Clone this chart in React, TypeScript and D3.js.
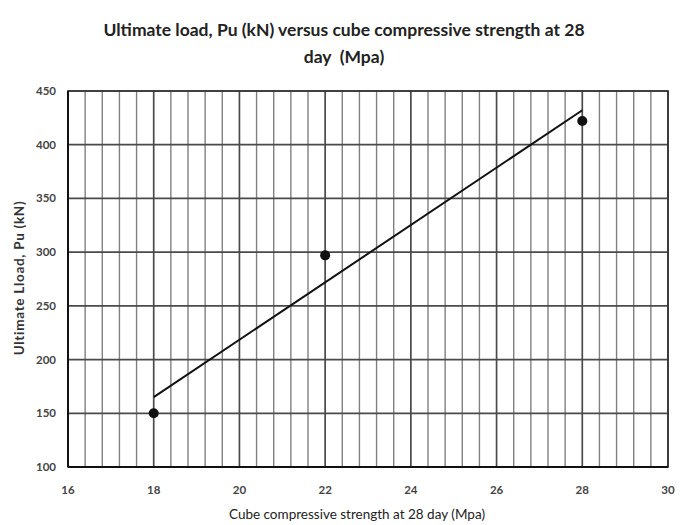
import React from "react";
import * as d3 from "d3";

const strengths = [18, 22, 28];
const loads = [150, 297, 422];
const xTicks = [16, 18, 20, 22, 24, 26, 28, 30];
const yTicks = [100, 150, 200, 250, 300, 350, 400, 450];
const titleLines = ["Ultimate load, Pu (kN) versus cube compressive strength at 28", "day\u00a0\u00a0(Mpa)"];
const xTitle = "Cube compressive strength at 28 day (Mpa)";
const yTitle = "Ultimate Lload, Pu (kN)";

export default function App() {
  const W = 689, H = 525;
  const m = { left: 68, right: 668, top: 91, bottom: 467 };
  const x = d3.scaleLinear().domain([16, 30]).range([m.left, m.right]);
  const y = d3.scaleLinear().domain([100, 450]).range([m.bottom, m.top]);
  const minorX = d3.range(16, 30.0001, 0.4).map((v) => Math.round(v * 10) / 10);

  const mx = d3.mean(strengths)!;
  const my = d3.mean(loads)!;
  const sxy = d3.sum(strengths.map((s, i) => (s - mx) * (loads[i] - my)));
  const sxx = d3.sum(strengths.map((s) => (s - mx) ** 2));
  const slope = sxy / sxx;
  const intercept = my - slope * mx;
  const xMin = d3.min(strengths)!, xMax = d3.max(strengths)!;
  const trend = d3.line<number>().x((v) => x(v)).y((v) => y(slope * v + intercept))([xMin, xMax]);

  return (
    <svg width={W} height={H} style={{ position: "absolute", left: 0, top: 0, background: "#fff" }} fontFamily="Lato, 'Open Sans', sans-serif">
      {titleLines.map((t, i) => (
        <text key={i} x={344} y={36 + i * 27} textAnchor="middle" fontSize={17.5} fontWeight="bold" fill="#222">{t}</text>
      ))}
      {minorX.map((v) => {
        const major = Math.abs(v / 2 - Math.round(v / 2)) < 1e-6;
        return (
          <line key={"vx" + v} x1={x(v)} x2={x(v)} y1={m.top} y2={m.bottom} stroke={major ? "#4a4a4a" : "#808080"} strokeWidth={major ? 1.7 : 1.4} />
        );
      })}
      {yTicks.map((v) => (
        <line key={"hy" + v} x1={m.left} x2={m.right} y1={y(v)} y2={y(v)} stroke="#4a4a4a" strokeWidth={1.7} />
      ))}
      <rect x={m.left} y={m.top} width={m.right - m.left} height={m.bottom - m.top} fill="none" stroke="#333" strokeWidth={1.6} />
      <line x1={m.left} x2={m.right} y1={m.bottom} y2={m.bottom} stroke="#111" strokeWidth={2} />
      <line x1={m.left} x2={m.left} y1={m.top} y2={m.bottom} stroke="#111" strokeWidth={2} />
      <path d={trend || ""} stroke="#111" strokeWidth={2} fill="none" />
      {strengths.map((s, i) => (
        <circle key={"p" + i} cx={x(s)} cy={y(loads[i])} r={5} fill="#111" />
      ))}
      {yTicks.map((v) => (
        <text key={"yl" + v} x={56} y={y(v)} dy="0.35em" textAnchor="end" fontSize={11.5} fontWeight="bold" fill="#444">{v}</text>
      ))}
      {xTicks.map((v) => (
        <text key={"xl" + v} x={x(v)} y={490} dy="0.35em" textAnchor="middle" fontSize={11.5} fontWeight="bold" fill="#444">{v}</text>
      ))}
      <text x={357} y={519} textAnchor="middle" fontSize={13.5} fill="#222">{xTitle}</text>
      <text transform={`translate(24,${278}) rotate(-90)`} textAnchor="middle" fontSize={13.5} fontWeight="bold" fill="#333" letterSpacing={0.7}>{yTitle}</text>
    </svg>
  );
}
